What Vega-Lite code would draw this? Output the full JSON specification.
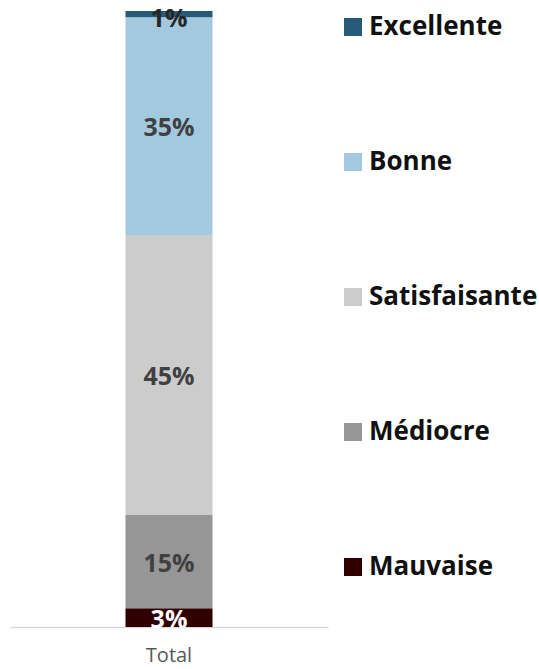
{
  "$schema": "https://vega.github.io/schema/vega-lite/v6.json",
  "width": 318,
  "height": 616,
  "autosize": "none",
  "padding": {"left": 10, "top": 11, "right": 211, "bottom": 42},
  "background": "white",
  "config": {"view": {"stroke": null}, "font": "Open Sans"},
  "data": {"values": [
    {"group": "Total", "cat": "Mauvaise", "rank": 1, "share": 0.03},
    {"group": "Total", "cat": "Médiocre", "rank": 2, "share": 0.15},
    {"group": "Total", "cat": "Satisfaisante", "rank": 3, "share": 0.45},
    {"group": "Total", "cat": "Bonne", "rank": 4, "share": 0.35},
    {"group": "Total", "cat": "Excellente", "rank": 5, "share": 0.01}
  ]},
  "encoding": {
    "x": {"field": "group", "type": "nominal", "title": null,
      "axis": {"labelAngle": 0, "domainColor": "#D9D9D9", "domainWidth": 1.5, "ticks": false, "labelFontSize": 20, "labelColor": "#595959", "labelPadding": 18, "labelFont": "Open Sans"}},
    "y": {"field": "share", "type": "quantitative", "stack": "zero", "scale": {"domain": [0, 0.99], "nice": false}, "axis": null},
    "order": {"field": "rank", "type": "quantitative"}
  },
  "layer": [
    {
      "mark": {"type": "bar", "size": 87},
      "encoding": {
        "color": {"field": "cat", "type": "nominal",
          "scale": {"domain": ["Excellente", "Bonne", "Satisfaisante", "Médiocre", "Mauvaise"],
                    "range": ["#255A78", "#A3C9E0", "#CCCCCC", "#969696", "#300000"]},
          "legend": {"title": null, "orient": "none", "legendX": 330, "legendY": 3, "symbolType": "square", "symbolSize": 324, "symbolStrokeWidth": 0, "labelFontSize": 26, "labelFontWeight": "bold", "labelColor": "#111111", "labelFont": "Open Sans", "labelLimit": 400, "rowPadding": 109, "labelOffset": 3}}
      }
    },
    {
      "mark": {"type": "text", "fontSize": 25, "fontWeight": "bold", "baseline": "middle", "dy": 2},
      "encoding": {
        "y": {"field": "share", "type": "quantitative", "stack": "zero", "bandPosition": 0.5},
        "text": {"field": "share", "type": "quantitative", "format": ".0%", "condition": {"test": "datum.cat === 'Excellente'", "value": ""}},
        "color": {"condition": {"test": "datum.cat === 'Mauvaise'", "value": "#FFFFFF"}, "value": "#404040"}
      }
    },
    {
      "mark": {"type": "text", "fontSize": 25, "fontWeight": "bold", "baseline": "middle", "dy": 5, "color": "#262626"},
      "encoding": {
        "y": {"field": "share", "type": "quantitative", "stack": "zero", "bandPosition": 0.5},
        "text": {"field": "share", "type": "quantitative", "format": ".0%", "condition": {"test": "datum.cat !== 'Excellente'", "value": ""}}
      }
    }
  ]
}
